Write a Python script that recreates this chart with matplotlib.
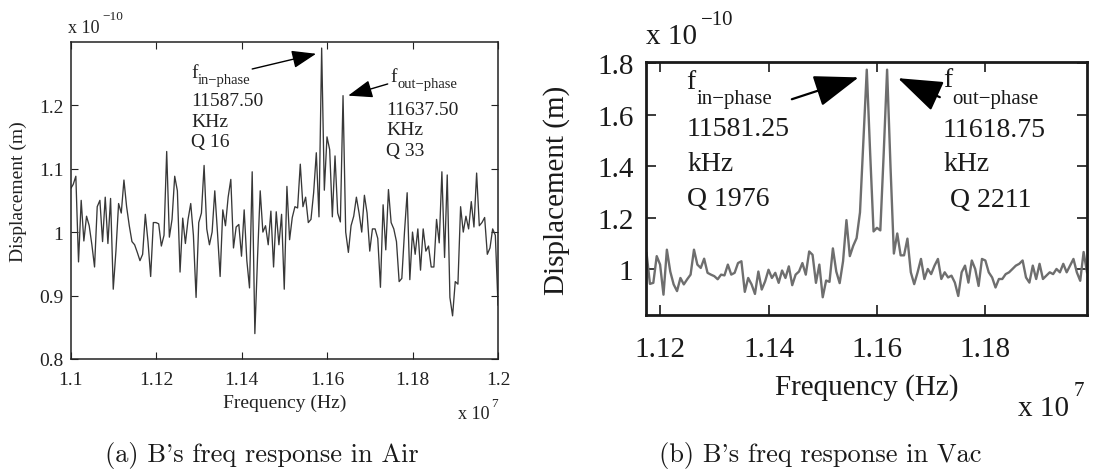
import numpy as np
import matplotlib
matplotlib.use("Agg")
import matplotlib.pyplot as plt

# ---------------------------------------------------------------- data
# Frequency sweep grids (kHz) and measured displacement (units of 1e-10 m)
freq_air_khz = 11000 + 6.25 * np.arange(161)
disp_air = [
    1.068, 1.075, 1.088, 0.953, 1.050, 0.986, 1.025, 1.010, 0.980, 0.945,
    1.040, 1.050, 0.985, 1.055, 0.982, 1.053, 0.910, 0.970, 1.045, 1.030,
    1.082, 1.040, 1.010, 0.985, 0.980, 0.968, 0.955, 0.965, 1.028, 0.985,
    0.930, 1.015, 1.015, 1.013, 0.978, 0.995, 1.127, 0.992, 1.020, 1.088,
    1.065, 0.937, 1.022, 0.982, 1.020, 1.045, 0.995, 0.897, 1.015, 1.030,
    1.105, 1.005, 0.980, 1.000, 1.065, 1.000, 0.930, 1.035, 1.010, 1.055,
    1.083, 0.975, 1.008, 1.012, 0.962, 1.035, 0.955, 0.912, 1.095, 0.840,
    0.960, 1.065, 1.000, 1.010, 0.980, 1.033, 0.945, 1.032, 0.980, 1.028,
    0.910, 1.072, 0.988, 1.023, 1.040, 1.038, 1.107, 1.040, 1.055, 1.015,
    1.020, 1.062, 1.125, 1.024, 1.290, 1.066, 1.150, 1.130, 1.024, 1.120,
    1.030, 1.016, 1.215, 1.000, 0.968, 1.010, 1.025, 1.055, 1.030, 1.000,
    1.058, 1.030, 0.970, 1.005, 1.005, 0.990, 0.913, 1.043, 0.972, 1.067,
    1.015, 1.005, 0.985, 0.922, 0.927, 1.000, 1.062, 0.925, 1.000, 0.965,
    1.005, 0.940, 1.005, 0.970, 0.978, 0.945, 0.945, 1.020, 0.983, 1.095,
    0.960, 1.090, 0.897, 0.868, 0.922, 0.918, 1.040, 1.000, 1.025, 1.005,
    1.048, 1.008, 1.093, 1.010, 1.015, 1.023, 0.965, 0.975, 1.005, 0.995,
    0.885,
]

freq_vac_khz = 11175 + 6.25 * np.arange(131)
disp_vac = [
    1.062, 0.942, 0.946, 1.050, 1.017, 0.900, 1.075, 0.990, 0.940, 0.914,
    0.965, 0.940, 0.960, 0.978, 1.075, 1.017, 1.004, 1.040, 0.985, 0.978,
    0.972, 0.960, 0.978, 0.975, 1.017, 0.978, 0.985, 1.023, 1.030, 0.911,
    0.965, 0.940, 0.903, 0.990, 0.920, 0.952, 0.997, 0.965, 0.985, 0.946,
    0.994, 0.965, 1.010, 0.937, 0.978, 0.990, 1.023, 0.978, 1.068, 1.055,
    0.946, 1.017, 0.890, 0.955, 0.950, 1.080, 0.990, 0.945, 1.030, 1.190,
    1.050, 1.090, 1.120, 1.220, 1.500, 1.775, 1.450, 1.146, 1.160, 1.150,
    1.450, 1.775, 1.400, 1.060, 1.138, 1.053, 1.053, 1.118, 0.987, 0.941,
    0.987, 1.039, 0.961, 1.000, 0.980, 1.013, 1.039, 0.961, 0.987, 0.967,
    0.974, 0.947, 0.895, 0.987, 1.013, 0.947, 1.033, 1.000, 0.934, 1.039,
    1.033, 0.987, 0.967, 0.928, 0.961, 0.961, 0.980, 0.987, 1.000, 1.013,
    1.020, 1.033, 0.967, 0.947, 1.013, 0.961, 1.020, 0.961, 0.974, 0.987,
    0.980, 1.000, 0.987, 1.020, 0.987, 1.013, 1.039, 0.987, 0.954, 1.066,
    0.987,
]

# resonance annotations: (subscript, frequency kHz, unit, Q)
air_peaks = [("in\u2212phase", 11587.50, "KHz", "Q 16"),
             ("out\u2212phase", 11637.50, "KHz", "Q 33")]
vac_peaks = [("in\u2212phase", 11581.25, "kHz", "Q 1976"),
             ("out\u2212phase", 11618.75, "kHz", " Q 2211")]

air_xticks = [1.10, 1.12, 1.14, 1.16, 1.18, 1.20]
air_xticklabels = ["1.1", "1.12", "1.14", "1.16", "1.18", "1.2"]
air_yticks = [0.8, 0.9, 1.0, 1.1, 1.2]
air_yticklabels = ["0.8", "0.9", "1", "1.1", "1.2"]
vac_xticks = [1.12, 1.14, 1.16, 1.18]
vac_xticklabels = ["1.12", "1.14", "1.16", "1.18"]
vac_yticks = [1.0, 1.2, 1.4, 1.6, 1.8]
vac_yticklabels = ["1", "1.2", "1.4", "1.6", "1.8"]

# the Computer Modern font draws the ASCII quote as a curly apostrophe
captions = ["(a) B's freq response in Air", "(b) B's freq response in Vac"]

# ---------------------------------------------------------------- layout
W, H, DPI = 1093, 477, 100
SERIF = ["Liberation Serif", "DejaVu Serif"]
plt.rcParams["font.family"] = SERIF

fig = plt.figure(figsize=(W / DPI, H / DPI), dpi=DPI)


def px_axes(x0, y0, x1, y1):
    """Axes rectangle from pixel box (top-left origin)."""
    return fig.add_axes([x0 / W, 1 - y1 / H, (x1 - x0) / W, (y1 - y0) / H])


def fig_text(x, y, s, size, **kw):
    fig.text(x / W, 1 - y / H, s, fontsize=size, family=SERIF, **kw)


def to_unit7(khz):
    # kHz -> units of 1e7 Hz
    return np.asarray(khz) * 1e3 / 1e7


ax1 = px_axes(70.5, 42.7, 498, 360)
ax2 = px_axes(646, 62.7, 1087, 316)

# ---- left panel: air
ax1.plot(to_unit7(freq_air_khz), disp_air, color="#383838", lw=0.95)
ax1.set_xlim(1.10, 1.20)
ax1.set_ylim(0.8, 1.3)
ax1.set_xticks(air_xticks, air_xticklabels)
ax1.set_yticks(air_yticks, air_yticklabels)
ax1.tick_params(direction="in", top=True, right=True, length=5, width=0.8,
                labelsize=14, colors="#222222")
ax1.tick_params(axis="x", pad=8.5)
ax1.tick_params(axis="y", pad=5)
for sp in ax1.spines.values():
    sp.set_linewidth(1.1)
    sp.set_color("#222222")
ax1.set_xlabel("Frequency (Hz)", fontsize=14, color="#222222")
ax1.xaxis.set_label_coords(0.5, -0.1355)
ax1.xaxis.label.set_va("center")
ax1.set_ylabel("Displacement (m)", fontsize=14, color="#222222")
ax1.yaxis.set_label_coords(-0.123, 0.53)
ax1.yaxis.label.set_va("center")

# ---- right panel: vacuum
ax2.plot(to_unit7(freq_vac_khz), disp_vac, color="#6e6e6e", lw=1.7)
ax2.set_xlim(to_unit7(freq_vac_khz[0]) - 0.0001, to_unit7(freq_vac_khz[-1]))
ax2.set_ylim(0.821, 1.806)
ax2.set_xticks(vac_xticks, vac_xticklabels)
ax2.set_yticks(vac_yticks, vac_yticklabels)
ax2.tick_params(direction="in", top=True, right=True, length=7, width=1.2,
                labelsize=21, colors="#1a1a1a")
ax2.tick_params(axis="x", pad=15)
ax2.tick_params(axis="y", pad=9)
for sp in ax2.spines.values():
    sp.set_linewidth(2.0)
    sp.set_color("#1a1a1a")
ax2.set_xlabel("Frequency (Hz)", fontsize=21, color="#1a1a1a")
ax2.xaxis.set_label_coords(0.5, -0.284)
ax2.xaxis.label.set_va("center")
ax2.set_ylabel("Displacement (m)", fontsize=21, color="#1a1a1a")
ax2.yaxis.set_label_coords(-0.202, 0.497)
ax2.yaxis.label.set_va("center")

# ---- exponent labels
fig_text(68, 33, "x 10", 13, color="#222222", va="baseline")
fig_text(102, 20, "\u221210", 9.5, color="#222222", va="baseline")
fig_text(458, 419, "x 10", 13, color="#222222", va="baseline")
fig_text(491, 407, "7", 9.5, color="#222222", va="baseline")

fig_text(646, 44, "x 10", 21, color="#1a1a1a", va="baseline")
fig_text(701, 25, "\u221210", 15, color="#1a1a1a", va="baseline")
fig_text(1018, 416, "x 10", 21, color="#1a1a1a", va="baseline")
fig_text(1074, 396, "7", 15, color="#1a1a1a", va="baseline")

# ---- resonance annotations (pixel positions of text blocks)
air_blocks = [dict(fx=191, fy=78, sx=198, sy=84, lx=191, ly=(106, 127, 147)),
              dict(fx=390, fy=82, sx=397, sy=88, lx=386, ly=(115, 135, 156))]
vac_blocks = [dict(fx=686, fy=89, sx=697, sy=104, lx=687, ly=(136, 171, 206)),
              dict(fx=943, fy=87, sx=952, sy=104, lx=943, ly=(137, 171, 207))]


def draw_block(b, peak, big, col):
    sub, fk, unit, q = peak
    main_size, sub_size = (20, 15) if big else (14, 10.5)
    fig_text(b["fx"], b["fy"], "f", main_size, color=col, va="baseline")
    fig_text(b["sx"], b["sy"], sub, sub_size, color=col, va="baseline")
    for s, yy in zip([f"{fk:.2f}", unit, q], b["ly"]):
        fig_text(b["lx"], yy, s, main_size, color=col, va="baseline")


for b, p in zip(air_blocks, air_peaks):
    draw_block(b, p, False, "#222222")
for b, p in zip(vac_blocks, vac_peaks):
    draw_block(b, p, True, "#1a1a1a")


def peak_value(freqs, disp, fk):
    i = int(np.argmin(np.abs(np.asarray(freqs) - fk)))
    return to_unit7(freqs[i]), disp[i]


def arrow(ax, tip, tail, hl, hw, lw):
    ax.annotate("", xy=tip, xytext=tail, xycoords="data", textcoords="data",
                annotation_clip=False,
                arrowprops=dict(arrowstyle=f"-|>,head_length={hl},head_width={hw}",
                                color="black", lw=lw, shrinkA=0, shrinkB=0,
                                mutation_scale=10))


# air arrows
px, py = peak_value(freq_air_khz, disp_air, air_peaks[0][1])
arrow(ax1, (px - 0.0013, py - 0.009), (1.1425, 1.257), 1.5, 0.55, 1.0)
px, py = peak_value(freq_air_khz, disp_air, air_peaks[1][1])
arrow(ax1, (px + 0.0012, py), (1.1742, 1.2334), 1.5, 0.55, 1.0)

# vacuum arrows
px, py = peak_value(freq_vac_khz, disp_vac, vac_peaks[0][1])
arrow(ax2, (px - 0.0015, py - 0.03), (1.1443, 1.660), 2.8, 1.0, 1.6)
px, py = peak_value(freq_vac_khz, disp_vac, vac_peaks[1][1])
arrow(ax2, (px + 0.002, py - 0.033), (1.1716, 1.668), 2.8, 1.0, 1.6)

# ---- sub-figure captions
CAPTION_FONT = ["cmr10", "DejaVu Serif"]
fig.text(261.5 / W, 1 - 456 / H, captions[0], fontsize=19, family=CAPTION_FONT,
         ha="center", va="center", color="#1a1a1a")
fig.text(820 / W, 1 - 456 / H, captions[1], fontsize=19, family=CAPTION_FONT,
         ha="center", va="center", color="#1a1a1a")

fig.savefig("out.png", dpi=DPI, facecolor="white")
